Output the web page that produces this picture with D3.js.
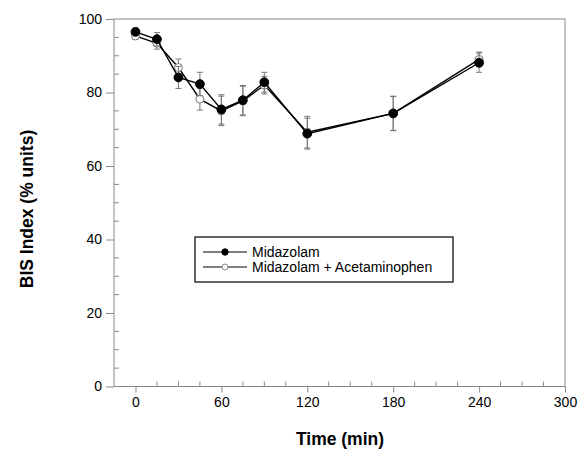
<!DOCTYPE html>
<html>
<head>
<meta charset="utf-8">
<script src="https://cdn.jsdelivr.net/npm/d3@7"></script>
<style>
  body { margin: 0; background: #fff; }
  text { font-family: "Liberation Sans", Arial, sans-serif; }
</style>
</head>
<body>
<div id="chart"></div>
<script>
// time points (min)
const times = [0, 15, 30, 45, 60, 75, 90, 120, 180, 240];

// Midazolam (filled)
const midaz = [96.5, 94.5, 84.1, 82.3, 75.4, 77.9, 82.8, 68.8, 74.3, 88.1];
const midazErr = [1.0, 1.8, 3.0, 3.2, 4.0, 4.0, 2.7, 4.2, 4.7, 2.6];

// Midazolam + Acetaminophen (open)
const midazAcet = [95.4, 93.4, 86.8, 78.2, 75.0, 77.7, 82.0, 69.2, 74.3, 89.0];
const midazAcetErr = [1.0, 1.6, 2.3, 3.0, 4.0, 4.0, 2.4, 4.3, 4.6, 2.0];

const xTicks = [0, 60, 120, 180, 240, 300];
const yTicks = [0, 20, 40, 60, 80, 100];

const width = 579, height = 450;
const margin = {top: 19, right: 14, bottom: 63.5, left: 114};

const svg = d3.select("#chart")
    .append("svg")
    .attr("width", width)
    .attr("height", height);

const x = d3.scaleLinear()
    .domain([-15, 300])
    .range([margin.left, width - margin.right]);

const y = d3.scaleLinear()
    .domain([0, 100])
    .range([height - margin.bottom, margin.top]);

const axisColor = "#888";

// frame
svg.append("rect")
    .attr("x", x(-15))
    .attr("y", y(100))
    .attr("width", x(300) - x(-15))
    .attr("height", y(0) - y(100))
    .attr("fill", "none")
    .attr("stroke", axisColor)
    .attr("stroke-width", 1);

// y axis: major ticks outside, minor inside
const yAxis = svg.append("g")
    .attr("transform", `translate(${x(-15)},0)`)
    .call(d3.axisLeft(y).tickValues(yTicks).tickSize(8).tickPadding(4));
yAxis.select(".domain").remove();
yAxis.selectAll("line").attr("stroke", axisColor);
yAxis.selectAll("text").attr("font-size", 14).attr("fill", "#000")
    .attr("font-family", "Liberation Sans, Arial, sans-serif");

svg.append("g")
    .selectAll("line")
    .data(d3.range(5, 100, 5).filter(v => v % 20 !== 0))
    .enter()
    .append("line")
    .attr("x1", x(-15))
    .attr("x2", x(-15) + 5)
    .attr("y1", d => y(d))
    .attr("y2", d => y(d))
    .attr("stroke", axisColor);

// x axis: major ticks outside, minor inside
const xAxis = svg.append("g")
    .attr("transform", `translate(0,${y(0)})`)
    .call(d3.axisBottom(x).tickValues(xTicks).tickSize(6).tickPadding(5));
xAxis.select(".domain").remove();
xAxis.selectAll("line").attr("stroke", axisColor);
xAxis.selectAll("text").attr("font-size", 14).attr("fill", "#000")
    .attr("font-family", "Liberation Sans, Arial, sans-serif");

svg.append("g")
    .selectAll("line")
    .data(d3.range(15, 300, 15).filter(v => v % 60 !== 0))
    .enter()
    .append("line")
    .attr("x1", d => x(d))
    .attr("x2", d => x(d))
    .attr("y1", y(0))
    .attr("y2", y(0) - 5)
    .attr("stroke", axisColor);

// axis titles
svg.append("text")
    .attr("x", 340)
    .attr("y", 445)
    .attr("text-anchor", "middle")
    .attr("font-size", 17.5)
    .attr("font-weight", "bold")
    .text("Time (min)");

svg.append("text")
    .attr("transform", "translate(33,209) rotate(-90)")
    .attr("text-anchor", "middle")
    .attr("font-size", 17.5)
    .attr("font-weight", "bold")
    .text("BIS Index (% units)");

const seriesList = [
    {name: "Midazolam + Acetaminophen", vals: midazAcet, err: midazAcetErr, filled: false},
    {name: "Midazolam", vals: midaz, err: midazErr, filled: true}
];

const line = d3.line().x(d => x(d.t)).y(d => y(d.v));

seriesList.forEach(s => {
    const pts = times.map((t, i) => ({t: t, v: s.vals[i], e: s.err[i]}));
    const g = svg.append("g");

    // error bars
    const eb = g.selectAll("g.eb").data(pts).enter().append("g")
        .attr("stroke", "#777").attr("stroke-width", 1);
    eb.append("line")
        .attr("x1", d => x(d.t)).attr("x2", d => x(d.t))
        .attr("y1", d => y(d.v - d.e)).attr("y2", d => y(d.v + d.e));
    eb.append("line")
        .attr("x1", d => x(d.t) - 3).attr("x2", d => x(d.t) + 3)
        .attr("y1", d => y(d.v + d.e)).attr("y2", d => y(d.v + d.e));
    eb.append("line")
        .attr("x1", d => x(d.t) - 3).attr("x2", d => x(d.t) + 3)
        .attr("y1", d => y(d.v - d.e)).attr("y2", d => y(d.v - d.e));

    g.append("path")
        .datum(pts)
        .attr("d", line)
        .attr("fill", "none")
        .attr("stroke", "#000")
        .attr("stroke-width", 1.4);

    g.selectAll("circle").data(pts).enter().append("circle")
        .attr("cx", d => x(d.t))
        .attr("cy", d => y(d.v))
        .attr("r", s.filled ? 4.4 : 4)
        .attr("fill", s.filled ? "#000" : "#fff")
        .attr("stroke", s.filled ? "#000" : "#777")
        .attr("stroke-width", 1);
});

// legend
const lg = svg.append("g").attr("transform", "translate(195,237)");
lg.append("rect")
    .attr("width", 258).attr("height", 45)
    .attr("fill", "#fff").attr("stroke", "#000").attr("stroke-width", 1.2);

[
    {name: "Midazolam", filled: true},
    {name: "Midazolam + Acetaminophen", filled: false}
].forEach((d, i) => {
    const yy = 15 + i * 15;
    lg.append("line")
        .attr("x1", 8).attr("x2", 52).attr("y1", yy).attr("y2", yy)
        .attr("stroke", "#000").attr("stroke-width", 1);
    lg.append("circle")
        .attr("cx", 30).attr("cy", yy).attr("r", d.filled ? 3.2 : 3)
        .attr("fill", d.filled ? "#000" : "#fff")
        .attr("stroke", d.filled ? "#000" : "#888");
    lg.append("text")
        .attr("x", 57).attr("y", yy + 5)
        .attr("font-size", 14)
        .text(d.name);
});
</script>
</body>
</html>
